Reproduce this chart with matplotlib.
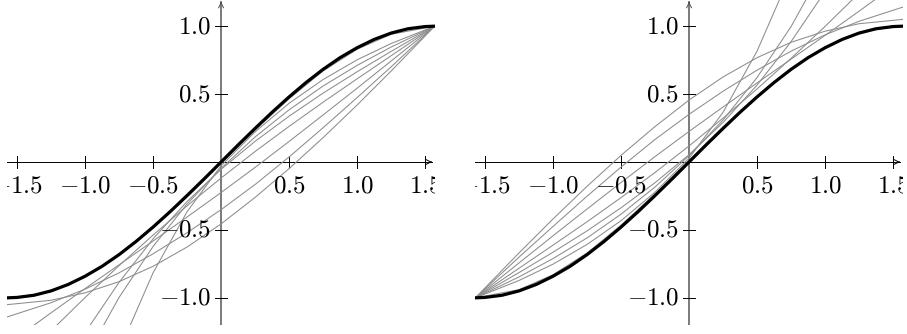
import matplotlib
matplotlib.use("Agg")
import matplotlib.pyplot as plt

plt.rcParams['mathtext.fontset'] = 'cm'

# sample positions
x_fine = [-1.571, -1.5, -1.375, -1.25, -1.125, -1.0, -0.875, -0.75, -0.625, -0.5, -0.375,
          -0.25, -0.125, 0.0, 0.125, 0.25, 0.375, 0.5, 0.625, 0.75, 0.875, 1.0, 1.125,
          1.25, 1.375, 1.5, 1.571]
x_grid = [-1.571, -1.25, -1.0, -0.75, -0.5, -0.25, 0.0, 0.25, 0.5, 0.75, 1.0, 1.25, 1.571]

# thick black curve (same in both panels)
black_y = [-1.0, -0.997, -0.981, -0.949, -0.902, -0.841, -0.768, -0.682, -0.585, -0.479,
           -0.366, -0.247, -0.125, 0.0, 0.125, 0.247, 0.366, 0.479, 0.585, 0.682, 0.768,
           0.841, 0.902, 0.949, 0.981, 0.997, 1.0]

# grey curves, left panel (all meet at the right end)
left_grey = [
    [-1.05, -1.018, -0.963, -0.881, -0.768, -0.626, -0.456, -0.261, -0.049, 0.179, 0.419, 0.669, 1.0],
    [-1.14, -1.036, -0.936, -0.816, -0.676, -0.521, -0.351, -0.166, 0.037, 0.252, 0.474, 0.70, 1.0],
    [-1.344, -1.110, -0.932, -0.757, -0.582, -0.405, -0.225, -0.040, 0.151, 0.346, 0.543, 0.743, 1.0],
    [-1.574, -1.243, -0.998, -0.763, -0.538, -0.323, -0.118, 0.077, 0.262, 0.440, 0.612, 0.782, 1.0],
    [-2.307, -1.681, -1.256, -0.886, -0.566, -0.291, -0.054, 0.152, 0.337, 0.507, 0.664, 0.814, 1.0],
    [-2.74, -1.97, -1.447, -0.997, -0.622, -0.309, -0.047, 0.184, 0.384, 0.559, 0.711, 0.846, 1.0],
    [-4.13, -2.916, -2.091, -1.391, -0.816, -0.366, -0.028, 0.222, 0.432, 0.607, 0.752, 0.872, 1.0],
    [-1.005, -0.955, -0.848, -0.688, -0.487, -0.258, -0.012, 0.235, 0.465, 0.67, 0.83, 0.94, 1.0],
]

# grey curves, right panel (all meet at the left end)
right_grey = [
    [-1.0, -0.669, -0.419, -0.179, 0.049, 0.261, 0.456, 0.626, 0.768, 0.881, 0.963, 1.018, 1.05],
    [-1.0, -0.70, -0.474, -0.252, -0.037, 0.166, 0.351, 0.521, 0.676, 0.816, 0.936, 1.036, 1.14],
    [-1.0, -0.743, -0.543, -0.346, -0.151, 0.040, 0.225, 0.405, 0.582, 0.757, 0.932, 1.110, 1.344],
    [-1.0, -0.782, -0.612, -0.440, -0.262, -0.077, 0.118, 0.323, 0.538, 0.763, 0.998, 1.243, 1.574],
    [-1.0, -0.814, -0.664, -0.507, -0.337, -0.152, 0.054, 0.291, 0.566, 0.886, 1.256, 1.681, 2.307],
    [-1.0, -0.846, -0.711, -0.559, -0.384, -0.184, 0.047, 0.309, 0.622, 0.997, 1.447, 1.97, 2.74],
    [-1.0, -0.872, -0.752, -0.607, -0.432, -0.222, 0.028, 0.366, 0.816, 1.391, 2.091, 2.916, 4.13],
    [-1.0, -0.94, -0.83, -0.67, -0.465, -0.235, 0.012, 0.258, 0.487, 0.688, 0.848, 0.955, 1.005],
]

x_ticks = [-1.5, -1.0, -0.5, 0.5, 1.0, 1.5]
x_tick_labels = [r'$-1.5$', r'$-1.0$', r'$-0.5$', r'$0.5$', r'$1.0$', r'$1.5$']
y_ticks = [-1.0, -0.5, 0.5, 1.0]
y_tick_labels = [r'$-1.0$', r'$-0.5$', r'$0.5$', r'$1.0$']

XMIN, XMAX = -1.571, 1.571
YMIN, YMAX = -1.2, 1.2

fig = plt.figure(figsize=(9.07, 3.34), dpi=100)
ax_l = fig.add_axes([7.4 / 907, 9 / 334, 427.3 / 907, 326 / 334])
ax_r = fig.add_axes([475.4 / 907, 9 / 334, 427.3 / 907, 326 / 334])


def draw_panel(ax, grey):
    ax.set_xlim(XMIN, XMAX)
    ax.set_ylim(YMIN, YMAX)
    ax.axis('off')

    # axis lines with arrow heads
    ax.plot([XMIN, XMAX - 0.02], [0, 0], color='black', lw=0.7, zorder=1)
    ax.plot([0, 0], [YMIN, YMAX - 0.02], color='#707070', lw=1.3, zorder=1)
    ax.annotate('', xy=(XMAX, 0), xytext=(XMAX - 0.05, 0),
                arrowprops=dict(arrowstyle='->', lw=0.7, color='black', mutation_scale=9))
    ax.annotate('', xy=(0, YMAX), xytext=(0, YMAX - 0.05),
                arrowprops=dict(arrowstyle='->', lw=0.7, color='#505050', mutation_scale=9))

    # crossing tick marks and labels (labels cut at the panel edge, as in the source)
    for t, lab in zip(x_ticks, x_tick_labels):
        ax.plot([t, t], [-0.045, 0.045], color='black', lw=0.7, zorder=1)
        ax.text(t, -0.085, lab, ha='center', va='top', fontsize=18, clip_on=True)
    for t, lab in zip(y_ticks, y_tick_labels):
        ax.plot([-0.045, 0.045], [t, t], color='black', lw=0.7, zorder=1)
        ax.text(-0.075, t, lab, ha='right', va='center', fontsize=18, clip_on=True)

    for ys in grey:
        ax.plot(x_grid, ys, color='#8c8c8c', lw=0.75, zorder=2)
    ax.plot(x_fine, black_y, color='black', lw=2.3, zorder=3)


draw_panel(ax_l, left_grey)
draw_panel(ax_r, right_grey)

fig.savefig('out.png', dpi=100)
